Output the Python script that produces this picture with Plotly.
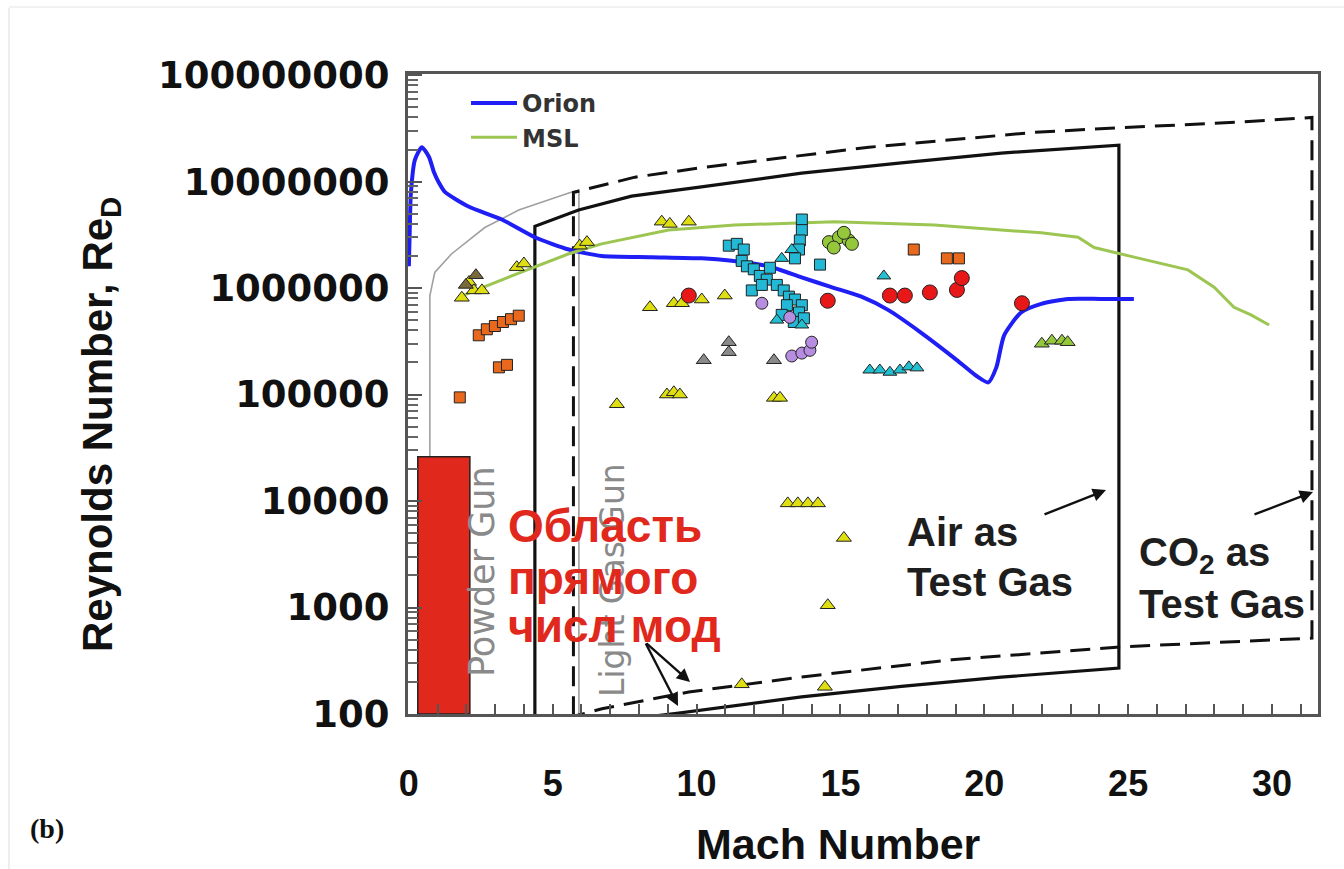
import plotly.graph_objects as go
import numpy as np

# ---------------- data ----------------
orion_mach = [0.0, 0.03, 0.07, 0.21, 0.45, 0.70, 0.87, 1.04, 1.25, 2.09, 3.23, 4.38, 5.56, 6.70, 8.44, 10.17,
              11.22, 12.5, 13.65, 14.69, 15.73, 16.67, 17.81, 18.96, 19.72, 20.14, 20.42, 20.69, 21.28,
              21.98, 22.92, 24.06, 25.2]
orion_re = [1.6e6, 3.5e6, 7.8e6, 1.6e7, 2.1e7, 1.7e7, 1.23e7, 9.8e6, 8.0e6, 5.8e6, 4.4e6, 3.0e6, 2.3e6,
            2.0e6, 1.95e6, 1.9e6, 1.8e6, 1.6e6, 1.26e6, 1.02e6, 8.3e5, 6.2e5, 3.8e5, 2.2e5, 1.5e5,
            1.3e5, 1.8e5, 3.6e5, 5.9e5, 7.1e5, 7.9e5, 7.9e5, 7.9e5]

msl_mach = [1.77, 2.88, 3.82, 5.56, 6.70, 9.03, 11.32, 14.79, 18.26, 20.59, 21.98, 23.26, 23.82, 25.21,
            27.08, 27.99, 28.68, 29.27, 29.9]
msl_re = [8.3e5, 1.1e6, 1.38e6, 2.1e6, 2.6e6, 3.5e6, 3.9e6, 4.2e6, 3.9e6, 3.5e6, 3.3e6, 3.0e6, 2.4e6,
          1.95e6, 1.48e6, 1.02e6, 6.6e5, 5.6e5, 4.5e5]

# Air test-gas envelope (solid)
air_upper_mach = [4.38, 5.9, 7.74, 10.17, 13.65, 17.12, 20.59, 24.68]
air_upper_re = [3.8e6, 5.4e6, 7.3e6, 8.9e6, 1.2e7, 1.5e7, 1.85e7, 2.2e7]
air_lower_mach = [24.68, 20.59, 17.12, 13.65, 9.38, 4.38]
air_lower_re = [270, 222, 182, 145, 102, 70]

# CO2 test-gas envelope (dashed)
co2_upper_mach = [5.72, 7.86, 10.18, 15.99, 21.76, 24.68, 28.71, 31.39]
co2_upper_re = [7.9e6, 1.1e7, 1.35e7, 2.1e7, 2.9e7, 3.2e7, 3.6e7, 4.0e7]
co2_lower_mach = [31.39, 24.71, 18.87, 13.66, 9.73, 6.71, 5.72]
co2_lower_re = [516, 426, 323, 223, 161, 112, 95]

# Powder gun / light gas gun boundary (thin gray)
gun_mach = [0.73, 0.73, 0.9, 1.49, 2.64, 3.82, 5.56, 5.91, 5.91]
gun_re = [80, 8.5e5, 1.4e6, 2.1e6, 3.7e6, 5.4e6, 7.8e6, 8.3e6, 80]

# test data points
yellow_tri_mach = [1.84, 2.09, 2.26, 2.54, 3.75, 4.0, 5.94, 6.19, 8.79, 9.07, 9.73, 8.38, 9.21, 9.49,
                   10.18, 10.98, 7.23, 8.97, 9.21, 9.42, 12.69, 12.9, 13.17, 13.52, 13.87, 14.22,
                   15.12, 14.56, 11.57, 14.46]
yellow_tri_re = [8.1e5, 1.14e6, 9.5e5, 9.5e5, 1.57e6, 1.7e6, 2.5e6, 2.7e6, 4.2e6, 4.0e6, 4.2e6, 6.6e5,
                 7.2e5, 7.2e5, 7.8e5, 8.5e5, 8.1e4, 1.0e5, 1.05e5, 1.0e5, 9.3e4, 9.3e4, 9.5e3, 9.5e3,
                 9.5e3, 9.5e3, 4.5e3, 1.05e3, 190, 180]

olive_tri_mach = [1.98, 2.33]
olive_tri_re = [1.07e6, 1.32e6]

lime_tri_mach = [22.0, 22.35, 22.7, 22.9]
lime_tri_re = [3.0e5, 3.2e5, 3.2e5, 3.1e5]

lime_circ_mach = [14.6, 14.95, 15.29, 14.77, 15.12, 15.4]
lime_circ_re = [2.7e6, 3.0e6, 2.8e6, 2.4e6, 3.3e6, 2.6e6]

gray_tri_mach = [10.25, 11.12, 11.12, 12.69]
gray_tri_re = [2.1e5, 2.5e5, 3.1e5, 2.1e5]

violet_mach = [12.27, 13.24, 13.31, 13.66, 13.94, 14.0]
violet_re = [7.2e5, 5.3e5, 2.3e5, 2.45e5, 2.6e5, 3.1e5]

red_mach = [9.73, 14.56, 16.72, 17.24, 18.11, 19.05, 19.22, 21.31]
red_re = [8.5e5, 7.6e5, 8.5e5, 8.5e5, 9.1e5, 9.6e5, 1.24e6, 7.2e5]

orange_mach = [1.77, 3.13, 3.41, 2.43, 2.71, 2.99, 3.27, 3.55, 3.82, 17.55, 18.7, 19.12]
orange_re = [9.4e4, 1.8e5, 1.9e5, 3.6e5, 4.1e5, 4.4e5, 4.8e5, 5.1e5, 5.5e5, 2.3e6, 1.9e6, 1.9e6]

cyan_sq_mach = [11.12, 11.40, 11.64, 11.57, 11.75, 11.99, 12.2, 12.44, 12.55, 12.79, 13.03, 13.21, 13.42,
                13.66, 13.14, 12.96, 13.56, 13.38, 13.73, 13.66, 13.66, 13.59, 13.56, 13.42, 14.29,
                11.92, 12.27]
cyan_sq_re = [2.5e6, 2.6e6, 2.3e6, 1.8e6, 1.6e6, 1.5e6, 1.3e6, 1.2e6, 1.55e6, 1.07e6, 9.5e5, 8.3e5,
              7.8e5, 6.9e5, 6.9e5, 5.6e5, 5.9e5, 4.8e5, 5.2e5, 4.4e6, 3.5e6, 2.8e6, 2.3e6, 1.9e6,
              1.66e6, 9.5e5, 1.07e6]

cyan_tri_mach = [12.96, 13.31, 12.79, 13.66, 16.51, 16.02, 16.37, 16.72, 17.07, 17.38, 17.66]
cyan_tri_re = [1.9e6, 2.3e6, 5.0e5, 4.5e5, 1.3e6, 1.7e5, 1.7e5, 1.62e5, 1.7e5, 1.82e5, 1.78e5]

rect_mach = [0.31, 2.12, 2.12, 0.31, 0.31]
rect_re = [100, 100, 2.6e4, 2.6e4, 100]

x_ticks = [0, 5, 10, 15, 20, 25, 30]
y_tick_vals = [1e2, 1e3, 1e4, 1e5, 1e6, 1e7, 1e8]
y_tick_text = ["100", "1000", "10000", "100000", "1000000", "10000000", "100000000"]
y_minor_vals = [k * v for v in y_tick_vals[:-1] for k in range(2, 10)]

# ---------------- figure ----------------
W, H = 1344, 869
L, R, T, B = 408, 26, 74, 155
PW, PH = W - L - R, H - T - B
X_RANGE = [-0.03, 31.6]
Y_RANGE = [2, 8.01]


def px(xp):
    return (xp - L) / PW


def py(yp):
    return (H - B - yp) / PH


fig = go.Figure()

# envelopes
fig.add_trace(go.Scatter(x=gun_mach, y=gun_re, mode="lines", line=dict(color="#a0a0a0", width=1.6),
                         showlegend=False, hoverinfo="skip"))
fig.add_trace(go.Scatter(x=[air_upper_mach[0]] + air_upper_mach + air_lower_mach,
                         y=[air_lower_re[-1]] + air_upper_re + air_lower_re,
                         mode="lines", line=dict(color="#111111", width=3.2),
                         showlegend=False, hoverinfo="skip"))
fig.add_trace(go.Scatter(x=[co2_upper_mach[0]] + co2_upper_mach + co2_lower_mach,
                         y=[co2_lower_re[-1]] + co2_upper_re + co2_lower_re,
                         mode="lines", line=dict(color="#111111", width=3, dash="20px,10px"),
                         showlegend=False, hoverinfo="skip"))

# trajectories
fig.add_trace(go.Scatter(x=orion_mach, y=orion_re, mode="lines", name="Orion",
                         line=dict(color="#1f1ff5", width=4, shape="spline", smoothing=0.6),
                         legendgroup="a"))
fig.add_trace(go.Scatter(x=msl_mach, y=msl_re, mode="lines", name="MSL",
                         line=dict(color="#9cc552", width=3), legendgroup="b"))

edge = dict(color="#222222", width=1)


def pts(x, y, color, symbol, size):
    fig.add_trace(go.Scatter(x=x, y=y, mode="markers", showlegend=False, hoverinfo="skip",
                             marker=dict(color=color, symbol=symbol, size=size, line=edge)))


pts(cyan_sq_mach, cyan_sq_re, "#22b8d6", "square", 11)
pts(cyan_tri_mach, cyan_tri_re, "#22c0d0", "triangle-up", 12)
pts(yellow_tri_mach, yellow_tri_re, "#dede10", "triangle-up", 13)
pts(olive_tri_mach, olive_tri_re, "#7a6a3a", "triangle-up", 13)
pts(lime_tri_mach, lime_tri_re, "#94c83a", "triangle-up", 13)
pts(lime_circ_mach, lime_circ_re, "#94c83a", "circle", 13)
pts(gray_tri_mach, gray_tri_re, "#8a8a8a", "triangle-up", 13)
pts(violet_mach, violet_re, "#b68de0", "circle", 12)
pts(red_mach, red_re, "#e81818", "circle", 15)
pts(orange_mach, orange_re, "#e8691e", "square", 11)

# red overlay rectangle
fig.add_trace(go.Scatter(x=rect_mach, y=rect_re, mode="lines", fill="toself", fillcolor="#e0281c",
                         line=dict(color="#222222", width=1.5), showlegend=False, hoverinfo="skip"))

ann = []


def text(xp, yp, s, size, color, family, xanchor="left", yanchor="middle", angle=0):
    ann.append(dict(x=px(xp), y=py(yp), xref="paper", yref="paper", text=s, showarrow=False,
                    xanchor=xanchor, yanchor=yanchor, textangle=angle,
                    font=dict(size=size, color=color, family=family)))


# rotated gun labels
text(482, 572, "Powder Gun", 35, "#8a8a8a", "DejaVu Sans", xanchor="center", angle=-90)
text(612, 580, "Light Gas Gun", 33, "#8a8a8a", "DejaVu Sans", xanchor="center", angle=-90)

# envelope labels
text(905, 532, "<b>Air as</b>", 40, "#1e1e1e", "Liberation Sans")
text(905, 582, "<b>Test Gas</b>", 40, "#1e1e1e", "Liberation Sans")
text(1137, 555, "<b>CO<sub>2</sub> as</b>", 40, "#1e1e1e", "Liberation Sans")
text(1137, 604, "<b>Test Gas</b>", 40, "#1e1e1e", "Liberation Sans")

# red overlay text
text(506, 526, "<b>Область</b>", 46, "#e0281c", "Liberation Sans")
text(506, 578, "<b>прямого</b>", 46, "#e0281c", "Liberation Sans")
text(506, 626, "<b>числ мод</b>", 46, "#e0281c", "Liberation Sans")

# axis titles
text(100, 425, "<b>Reynolds Number, Re<sub>D</sub></b>", 42, "#111111", "Liberation Sans",
     xanchor="center", angle=-90)
text(838, 844, "<b>Mach Number</b>", 43, "#111111", "Liberation Sans", xanchor="center")
text(28, 828, "<b>(b)</b>", 28, "#111111", "Liberation Serif")

# arrows
def arrow(x_head, y_head, x_tail, y_tail):
    ann.append(dict(x=px(x_head), y=py(y_head), xref="paper", yref="paper",
                    ax=x_tail - x_head, ay=y_tail - y_head, axref="pixel", ayref="pixel",
                    text="", showarrow=True, arrowhead=2, arrowsize=1.1, arrowwidth=2.4,
                    arrowcolor="#111111"))


arrow(1106, 490, 1043, 515)
arrow(1313, 492, 1253, 515)
arrow(690, 682, 645, 642)
arrow(678, 706, 645, 642)

fig.update_layout(
    width=W, height=H,
    margin=dict(l=L, r=R, t=T, b=B),
    paper_bgcolor="white", plot_bgcolor="white",
    annotations=ann,
    showlegend=True,
    legend=dict(x=px(466), y=py(81), xanchor="left", yanchor="top", bgcolor="rgba(0,0,0,0)",
                font=dict(size=24, color="#333333", family="DejaVu Sans", weight="bold"),
                itemwidth=46, traceorder="grouped", tracegroupgap=0),
    shapes=[
        dict(type="line", xref="paper", yref="paper", x0=px(9), x1=px(9), y0=py(8), y1=py(869),
             line=dict(color="#dddddd", width=1)),
        dict(type="line", xref="paper", yref="paper", x0=px(9), x1=px(1344), y0=py(7), y1=py(7),
             line=dict(color="#e4e4e4", width=1)),
    ],
)

fig.update_xaxes(range=X_RANGE, tickvals=x_ticks, ticks="inside", ticklen=10, tickwidth=1.5,
                 tickcolor="#555555", showline=True, linewidth=3, linecolor="#555555", mirror=True,
                 showgrid=False, zeroline=False, ticklabelstandoff=36,
                 tickfont=dict(size=36, family="Liberation Sans", color="#111111", weight="bold"),
                 minor=dict(dtick=1, ticks="inside", ticklen=10, tickwidth=1.5, tickcolor="#555555",
                            showgrid=False))
fig.update_yaxes(type="log", range=Y_RANGE, tickmode="array", tickvals=y_tick_vals,
                 ticktext=y_tick_text, ticks="inside", ticklen=14, tickwidth=2, tickcolor="#555555",
                 showline=True, linewidth=3, linecolor="#555555",
                 mirror=True, showgrid=False, zeroline=False, ticklabelstandoff=8,
                 tickfont=dict(size=37, family="DejaVu Sans", color="#111111", weight="bold"),
                 minor=dict(tickmode="array", tickvals=y_minor_vals, ticks="inside", ticklen=10,
                            tickwidth=1.6, tickcolor="#666666", showgrid=False))

fig.write_html("out.html")
